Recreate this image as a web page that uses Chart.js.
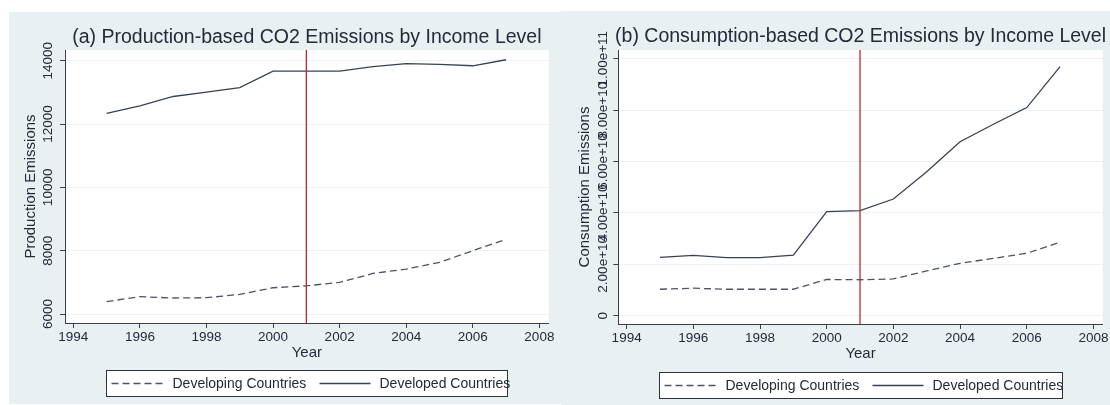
<!DOCTYPE html>
<html>
<head>
<meta charset="utf-8">
<script src="https://cdn.jsdelivr.net/npm/chart.js@4.4.0/dist/chart.umd.min.js"></script>
<style>
  html, body { margin: 0; padding: 0; background: #ffffff; }
  #wrap { position: relative; width: 1110px; height: 405px; overflow: hidden; background: #ffffff; }
  canvas { position: absolute; background: #e9f0f2; }
  #cA { left: 9px; top: 12px; }
  #cB { left: 561px; top: 11px; }
</style>
</head>
<body>
<div id="wrap">
  <canvas id="cA" width="552" height="392"></canvas>
  <canvas id="cB" width="549" height="394"></canvas>
</div>
<script>
// ---- data ----
const years = [1995, 1996, 1997, 1998, 1999, 2000, 2001, 2002, 2003, 2004, 2005, 2006, 2007];
const seriesNames = ['Developing Countries', 'Developed Countries'];

// Production-based emissions
const prodDeveloping = [6390, 6550, 6505, 6515, 6620, 6830, 6890, 7000, 7280, 7420, 7630, 8000, 8360];
const prodDeveloped  = [12340, 12570, 12870, 13010, 13150, 13670, 13670, 13670, 13810, 13910, 13885, 13840, 14030];

// Consumption-based emissions
const consDeveloping = [1.03e10, 1.07e10, 1.03e10, 1.03e10, 1.03e10, 1.41e10, 1.40e10, 1.43e10, 1.74e10, 2.04e10, 2.23e10, 2.43e10, 2.86e10];
const consDeveloped  = [2.27e10, 2.35e10, 2.26e10, 2.26e10, 2.36e10, 4.05e10, 4.09e10, 4.54e10, 5.60e10, 6.77e10, 7.45e10, 8.10e10, 9.69e10];

// tick labels
const xTicks = [1994, 1996, 1998, 2000, 2002, 2004, 2006, 2008];
const prodTicks = [6000, 8000, 10000, 12000, 14000];
const prodTickLabels = ['6000', '8000', '10000', '12000', '14000'];
const consTicks = [0, 2e10, 4e10, 6e10, 8e10, 1e11];
const consTickLabels = ['0', '2.00e+10', '4.00e+10', '6.00e+10', '8.00e+10', '1.00e+11'];

// reference year marker
const markerYear = 2001;

// ---- styling ----
const FONT = '"Liberation Sans", Arial, sans-serif';
const TEXT = '#232b37';
const AXIS = '#3a404a';
const GRID = '#edf3f5';
const SOLID = '#3a4150';
const DASHED = '#4e545e';
const MARK = '#c0292b';
const DASH = [7, 4];
const TICK_SIZE = 13.5;

function pts(vals) { return years.map((y, i) => ({ x: y, y: vals[i] })); }

// Panel decorations: white plot region, title, rotated y tick labels, marker line, legend
const panelPlugin = {
  id: 'panel',
  beforeDraw(chart) {
    const { ctx, chartArea: a } = chart;
    ctx.save();
    ctx.fillStyle = '#ffffff';
    ctx.fillRect(a.left, a.top, a.right - a.left, a.bottom - a.top);
    ctx.restore();
  },
  afterDatasetsDraw(chart) {
    const { ctx, chartArea: a } = chart;
    const x = chart.scales.x.getPixelForValue(markerYear);
    ctx.save();
    ctx.strokeStyle = MARK;
    ctx.lineWidth = 1.3;
    ctx.beginPath();
    ctx.moveTo(x, a.top);
    ctx.lineTo(x, a.bottom);
    ctx.stroke();
    ctx.restore();
  },
  afterDraw(chart) {
    const { ctx, chartArea: a } = chart;
    const o = chart.options.plugins.panel;
    const cx = (a.left + a.right) / 2;
    ctx.save();
    // title
    ctx.fillStyle = TEXT;
    ctx.font = '19.5px ' + FONT;
    ctx.textAlign = 'center';
    ctx.textBaseline = 'alphabetic';
    ctx.fillText(o.title, cx, o.titleY);

    // y tick labels, rotated
    const ys = chart.scales.y;
    ctx.font = TICK_SIZE + 'px ' + FONT;
    ctx.textBaseline = 'middle';
    o.yTicks.forEach((v, i) => {
      const py = ys.getPixelForValue(v);
      ctx.save();
      ctx.translate(a.left - o.yLabelGap, py);
      ctx.rotate(-Math.PI / 2);
      ctx.fillText(o.yLabels[i], 0, 0);
      ctx.restore();
    });

    // legend
    const bw = o.legendW, bh = 26;
    const bx = Math.round(cx - bw / 2) + 0.5;
    const by = Math.round(a.bottom + o.legendGap) + 0.5;
    ctx.fillStyle = '#ffffff';
    ctx.fillRect(bx, by, bw, bh);
    ctx.strokeStyle = '#2e333b';
    ctx.lineWidth = 1;
    ctx.strokeRect(bx, by, bw, bh);
    const my = by + bh / 2;
    const items = [
      { s: 5, e: 58, t: 66, dash: DASH, color: DASHED, label: seriesNames[0] },
      { s: 213, e: 264, t: 273, dash: [], color: SOLID, label: seriesNames[1] }
    ];
    ctx.font = '14px ' + FONT;
    ctx.textAlign = 'left';
    ctx.textBaseline = 'middle';
    items.forEach(it => {
      ctx.strokeStyle = it.color;
      ctx.lineWidth = 1.3;
      ctx.setLineDash(it.dash);
      ctx.beginPath();
      ctx.moveTo(bx + it.s, my);
      ctx.lineTo(bx + it.e, my);
      ctx.stroke();
      ctx.setLineDash([]);
      ctx.fillStyle = TEXT;
      ctx.fillText(it.label, bx + it.t, my + 1);
    });
    ctx.restore();
  }
};

function makePanel(id, p) {
  const ctx = document.getElementById(id).getContext('2d');
  return new Chart(ctx, {
    type: 'line',
    data: {
      datasets: [
        { label: seriesNames[0], data: pts(p.developing), borderColor: DASHED, borderWidth: 1.3,
          borderDash: DASH, pointRadius: 0, tension: 0, fill: false },
        { label: seriesNames[1], data: pts(p.developed), borderColor: SOLID, borderWidth: 1.3,
          pointRadius: 0, tension: 0, fill: false }
      ]
    },
    options: {
      responsive: false,
      animation: false,
      events: [],
      layout: { padding: { top: p.padTop, right: p.padRight, left: 0, bottom: 0 } },
      plugins: {
        legend: { display: false },
        title: { display: false },
        tooltip: { enabled: false },
        panel: p.panel
      },
      scales: {
        x: {
          type: 'linear',
          min: 1993.75,
          max: 2008.28,
          afterBuildTicks: s => { s.ticks = xTicks.map(v => ({ value: v })); },
          afterFit: s => { s.height = p.xHeight; },
          grid: { drawOnChartArea: false, drawTicks: true, tickLength: 5, tickColor: AXIS, tickWidth: 1 },
          border: { color: AXIS, width: 1 },
          ticks: { font: { family: FONT, size: TICK_SIZE }, color: TEXT, padding: 1.5, maxRotation: 0, autoSkip: false,
                   callback: v => String(v) },
          title: { display: true, text: 'Year', color: TEXT, font: { family: FONT, size: 15 },
                   padding: { top: 0, bottom: p.xTitlePad } }
        },
        y: {
          type: 'linear',
          min: p.yMin,
          max: p.yMax,
          afterBuildTicks: s => { s.ticks = p.panel.yTicks.map(v => ({ value: v })); },
          afterFit: s => { s.width = p.yWidth; },
          grid: { color: GRID, lineWidth: 1, drawTicks: true, tickLength: 5, tickColor: AXIS, tickWidth: 1 },
          border: { color: AXIS, width: 1 },
          ticks: { display: false },
          title: { display: true, text: p.yTitle, color: TEXT, font: { family: FONT, size: 15 },
                   padding: { top: p.yTitlePad, bottom: 0 } }
        }
      }
    },
    plugins: [panelPlugin]
  });
}

makePanel('cA', {
  developing: prodDeveloping,
  developed: prodDeveloped,
  yMin: 5716, yMax: 14338,
  yTitle: 'Production Emissions',
  padTop: 38, padRight: 12.3, xHeight: 81, yWidth: 56,
  xTitlePad: 42, yTitlePad: 13,
  panel: {
    title: '(a) Production-based CO2 Emissions by Income Level',
    titleY: 30.5,
    yTicks: prodTicks, yLabels: prodTickLabels, yLabelGap: 17,
    legendW: 401, legendGap: 47
  }
});

makePanel('cB', {
  developing: consDeveloping,
  developed: consDeveloped,
  yMin: -0.323e10, yMax: 1.034e11,
  yTitle: 'Consumption Emissions',
  padTop: 39, padRight: 2.5, xHeight: 81, yWidth: 57.3,
  xTitlePad: 42, yTitlePad: 15,
  panel: {
    title: '(b) Consumption-based CO2 Emissions by Income Level',
    titleY: 30.5,
    yTicks: consTicks, yLabels: consTickLabels, yLabelGap: 15,
    legendW: 403, legendGap: 48
  }
});
</script>
</body>
</html>
